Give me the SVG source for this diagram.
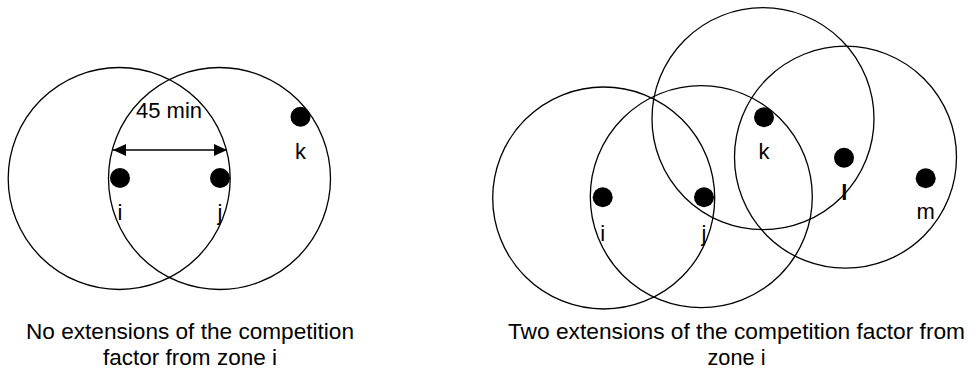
<svg xmlns="http://www.w3.org/2000/svg" width="971" height="371" viewBox="0 0 971 371">
<style>
  .zone { fill: none; stroke: #000; stroke-width: 1.3; }
  .dot { fill: #000; }
  .lbl { font-family: "Liberation Sans", Arial, sans-serif; font-size: 22px; fill: #000; text-anchor: middle; }
  .cap { font-family: "Liberation Sans", Arial, sans-serif; font-size: 22px; fill: #000; text-anchor: middle; }
  .conn { stroke: #000; stroke-width: 1.6; fill: none; }
</style>
<defs>
  <marker id="ah" markerUnits="userSpaceOnUse" markerWidth="14" markerHeight="14" viewBox="0 0 14 14" refX="13" refY="7" orient="auto-start-reverse">
    <path d="M0,1 L13,7 L0,13 Z" fill="#000"/>
  </marker>
</defs>
<rect width="971" height="371" fill="#fff"/>

<!-- Left diagram -->
<g id="left-zone-i">
  <circle class="zone" cx="119.2" cy="178.5" r="111"/>
  <circle class="dot" cx="120" cy="178" r="10"/>
  <text class="lbl" x="120" y="220">i</text>
</g>
<g id="left-zone-j">
  <circle class="zone" cx="219.5" cy="178.5" r="111"/>
  <circle class="dot" cx="220" cy="178" r="10"/>
  <text class="lbl" x="220" y="220">j</text>
</g>
<g id="left-zone-k">
  <circle class="dot" cx="300.5" cy="116.7" r="10"/>
  <text class="lbl" x="300.5" y="159">k</text>
</g>
<g id="connectors">
  <line class="conn" x1="113" y1="150" x2="227" y2="150" marker-start="url(#ah)" marker-end="url(#ah)"/>
  <text class="lbl" x="169" y="118">45 min</text>
</g>
<g id="left-caption">
  <text class="cap" x="190" y="339" textLength="328" lengthAdjust="spacingAndGlyphs">No extensions of the competition</text>
  <text class="cap" x="190" y="365" textLength="174" lengthAdjust="spacingAndGlyphs">factor from zone i</text>
</g>

<!-- Right diagram -->
<g id="right-zone-i">
  <circle class="zone" cx="603.7" cy="198" r="111"/>
  <circle class="dot" cx="602.7" cy="197.3" r="10"/>
  <text class="lbl" x="602.7" y="241">i</text>
</g>
<g id="right-zone-j">
  <circle class="zone" cx="701.3" cy="196.7" r="111"/>
  <circle class="dot" cx="704" cy="197.3" r="10"/>
  <text class="lbl" x="704" y="241">j</text>
</g>
<g id="right-zone-k">
  <circle class="zone" cx="763" cy="118.7" r="111"/>
  <circle class="dot" cx="764" cy="117.3" r="10"/>
  <text class="lbl" x="764" y="159.3">k</text>
</g>
<g id="right-zone-l">
  <circle class="zone" cx="845.5" cy="157.2" r="111"/>
  <circle class="dot" cx="844" cy="157.7" r="10"/>
  <text class="lbl" x="844.3" y="199.5" font-weight="bold">l</text>
</g>
<g id="right-zone-m">
  <circle class="dot" cx="925.7" cy="178.3" r="10"/>
  <text class="lbl" x="925.7" y="218.5">m</text>
</g>
<g id="right-caption">
  <text class="cap" x="736.5" y="339" textLength="457" lengthAdjust="spacingAndGlyphs">Two extensions of the competition factor from</text>
  <text class="cap" x="736.5" y="365" textLength="58" lengthAdjust="spacingAndGlyphs">zone i</text>
</g>
</svg>
